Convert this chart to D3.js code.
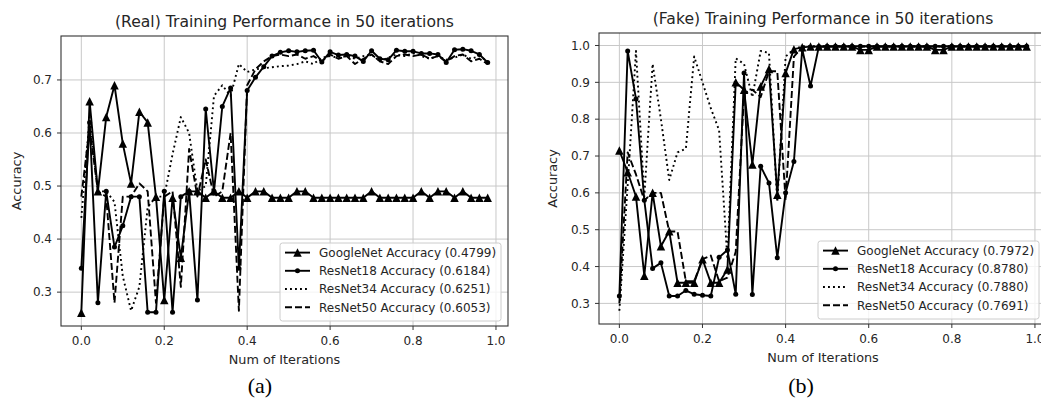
<!DOCTYPE html>
<html>
<head>
<meta charset="utf-8">
<script src="https://cdn.jsdelivr.net/npm/d3@7"></script>
<style>
  body { margin: 0; background: #fff; }
  svg { display: block; }
  text { font-family: "DejaVu Sans", sans-serif; fill: #262626; }
</style>
</head>
<body>
<div id="chart"></div>
<script>
// iteration fraction on the x axis (50 iterations)
const iterations = [
  0.00, 0.02, 0.04, 0.06, 0.08, 0.10, 0.12, 0.14, 0.16, 0.18,
  0.20, 0.22, 0.24, 0.26, 0.28, 0.30, 0.32, 0.34, 0.36, 0.38,
  0.40, 0.42, 0.44, 0.46, 0.48, 0.50, 0.52, 0.54, 0.56, 0.58,
  0.60, 0.62, 0.64, 0.66, 0.68, 0.70, 0.72, 0.74, 0.76, 0.78,
  0.80, 0.82, 0.84, 0.86, 0.88, 0.90, 0.92, 0.94, 0.96, 0.98
];

// (a) real
const realGoogleNet = [
  0.261, 0.66, 0.49, 0.63, 0.69, 0.58, 0.505, 0.64, 0.62, 0.48,
  0.285, 0.478, 0.365, 0.49, 0.49, 0.478, 0.49, 0.478, 0.478, 0.49,
  0.478, 0.49, 0.49, 0.478, 0.478, 0.478, 0.49, 0.49, 0.478, 0.478,
  0.478, 0.478, 0.478, 0.478, 0.478, 0.49, 0.478, 0.478, 0.478, 0.478,
  0.478, 0.49, 0.478, 0.49, 0.49, 0.478, 0.49, 0.478, 0.478, 0.478
];
const realResNet18 = [
  0.345, 0.62, 0.28, 0.49, 0.385, 0.425, 0.48, 0.48, 0.262, 0.262,
  0.49, 0.262, 0.48, 0.49, 0.285, 0.645, 0.49, 0.65, 0.685, 0.345,
  0.68, 0.705, 0.725, 0.745, 0.752, 0.755, 0.753, 0.755, 0.756, 0.734,
  0.753, 0.747, 0.748, 0.745, 0.735, 0.755, 0.74, 0.738, 0.756, 0.754,
  0.754, 0.75, 0.75, 0.748, 0.733, 0.757, 0.758, 0.755, 0.748, 0.733
];
const realResNet34 = [
  0.44, 0.63, 0.49, 0.49, 0.47, 0.33, 0.265, 0.31, 0.46, 0.48,
  0.48, 0.56, 0.63, 0.60, 0.49, 0.50, 0.67, 0.69, 0.67, 0.73,
  0.715, 0.72, 0.722, 0.724, 0.726, 0.727, 0.73, 0.735, 0.73, 0.742,
  0.745, 0.742, 0.745, 0.74, 0.745, 0.748, 0.735, 0.742, 0.748, 0.745,
  0.75, 0.745, 0.74, 0.745, 0.738, 0.742, 0.748, 0.74, 0.745, 0.735
];
const realResNet50 = [
  0.48, 0.61, 0.49, 0.48, 0.28, 0.48, 0.48, 0.505, 0.49, 0.28,
  0.48, 0.49, 0.31, 0.57, 0.48, 0.55, 0.48, 0.49, 0.60, 0.265,
  0.69, 0.72, 0.735, 0.745, 0.748, 0.745, 0.748, 0.74, 0.745, 0.735,
  0.748, 0.74, 0.745, 0.73, 0.74, 0.748, 0.735, 0.73, 0.745, 0.748,
  0.745, 0.748, 0.74, 0.745, 0.735, 0.745, 0.748, 0.735, 0.74, 0.73
];

// (b) fake
const fakeGoogleNet = [
  0.715, 0.656, 0.59, 0.375, 0.60, 0.455, 0.496, 0.356, 0.356, 0.356,
  0.42, 0.356, 0.356, 0.392, 0.90, 0.88, 0.677, 0.889, 0.936, 0.595,
  0.925, 0.99, 0.995, 0.997, 0.997, 0.997, 0.997, 0.997, 0.997, 0.988,
  0.988, 0.997, 0.997, 0.997, 0.997, 0.997, 0.997, 0.997, 0.988, 0.988,
  0.997, 0.997, 0.997, 0.997, 0.997, 0.997, 0.997, 0.997, 0.997, 0.997
];
const fakeResNet18 = [
  0.32, 0.985, 0.855, 0.58, 0.395, 0.41, 0.32, 0.32, 0.335, 0.325,
  0.322, 0.32, 0.425, 0.445, 0.325, 0.925, 0.324, 0.672, 0.627, 0.424,
  0.60, 0.685, 0.99, 0.89, 0.997, 0.998, 0.998, 0.998, 0.998, 0.998,
  0.998, 0.998, 0.998, 0.998, 0.998, 0.998, 0.998, 0.998, 0.998, 0.998,
  0.998, 0.998, 0.998, 0.998, 0.998, 0.998, 0.998, 0.998, 0.998, 0.998
];
const fakeResNet34 = [
  0.28, 0.62, 0.985, 0.59, 0.95, 0.80, 0.635, 0.71, 0.72, 0.97,
  0.90, 0.83, 0.77, 0.42, 0.965, 0.95, 0.86, 0.985, 0.98, 0.575,
  0.97, 0.99, 0.998, 0.998, 0.998, 0.998, 0.998, 0.998, 0.998, 0.998,
  0.998, 0.998, 0.998, 0.998, 0.998, 0.998, 0.998, 0.998, 0.998, 0.998,
  0.998, 0.998, 0.998, 0.998, 0.998, 0.998, 0.998, 0.998, 0.998, 0.998
];
const fakeResNet50 = [
  0.30, 0.71, 0.65, 0.58, 0.60, 0.60, 0.495, 0.495, 0.36, 0.36,
  0.42, 0.43, 0.36, 0.37, 0.44, 0.87, 0.88, 0.86, 0.93, 0.93,
  0.58, 0.97, 0.995, 0.997, 0.997, 0.997, 0.997, 0.997, 0.997, 0.997,
  0.997, 0.997, 0.997, 0.997, 0.997, 0.997, 0.997, 0.997, 0.997, 0.997,
  0.997, 0.997, 0.997, 0.997, 0.997, 0.997, 0.997, 0.997, 0.997, 0.997
];

const xTicks = [0.0, 0.2, 0.4, 0.6, 0.8, 1.0];
const realYTicks = [0.3, 0.4, 0.5, 0.6, 0.7];
const fakeYTicks = [0.3, 0.4, 0.5, 0.6, 0.7, 0.8, 0.9, 1.0];

const realLabels = [
  "GoogleNet Accuracy (0.4799)",
  "ResNet18 Accuracy (0.6184)",
  "ResNet34 Accuracy (0.6251)",
  "ResNet50 Accuracy (0.6053)"
];
const fakeLabels = [
  "GoogleNet Accuracy (0.7972)",
  "ResNet18 Accuracy (0.8780)",
  "ResNet34 Accuracy (0.7880)",
  "ResNet50 Accuracy (0.7691)"
];

// one style per model, same order as the legend
const styles = [
  { marker: "triangle", dash: null },
  { marker: "dot", dash: null },
  { marker: null, dash: "1.9,3.1" },
  { marker: null, dash: "7,3" }
];

const svg = d3.select("#chart")
  .append("svg")
  .attr("width", 1041)
  .attr("height", 398);

function trianglePath(s) {
  const p = d3.path();
  p.moveTo(0, -s / 2);
  p.lineTo(s / 2, s / 2);
  p.lineTo(-s / 2, s / 2);
  p.closePath();
  return p.toString();
}

// matplotlib style auto limits: data range plus 5% on each side
function padded(ext) {
  const m = (ext[1] - ext[0]) * 0.05;
  return [ext[0] - m, ext[1] + m];
}

function drawMarker(g, style, cx, cy) {
  if (style.marker === "triangle") {
    g.append("path")
      .attr("d", trianglePath(8.5))
      .attr("transform", "translate(" + cx + "," + cy + ")")
      .attr("fill", "#000");
  } else if (style.marker === "dot") {
    g.append("circle")
      .attr("cx", cx).attr("cy", cy).attr("r", 2.5)
      .attr("fill", "#000");
  }
}

function drawPanel(p) {
  const g = svg.append("g");
  const allValues = [].concat(...p.series);

  let x = d3.scaleLinear()
    .domain(padded(d3.extent(iterations)))
    .range([p.left, p.left + p.width]);

  let y = d3.scaleLinear()
    .domain(padded(d3.extent(allValues)))
    .range([p.top + p.height, p.top]);

  const bottom = p.top + p.height;

  // grid
  g.append("g").selectAll("line.vx")
    .data(xTicks)
    .enter().append("line")
      .attr("x1", d => x(d)).attr("x2", d => x(d))
      .attr("y1", p.top).attr("y2", bottom)
      .attr("stroke", "#c8c8c8").attr("stroke-width", 1);

  g.append("g").selectAll("line.hy")
    .data(p.yTicks)
    .enter().append("line")
      .attr("x1", p.left).attr("x2", p.left + p.width)
      .attr("y1", d => y(d)).attr("y2", d => y(d))
      .attr("stroke", "#c8c8c8").attr("stroke-width", 1);

  // series
  const line = d3.line()
    .x((d, i) => x(iterations[i]))
    .y(d => y(d));

  p.series.forEach((values, k) => {
    const st = styles[k];
    g.append("path")
      .datum(values)
      .attr("fill", "none")
      .attr("stroke", "#000")
      .attr("stroke-width", 1.9)
      .attr("stroke-linejoin", "round")
      .attr("stroke-dasharray", st.dash)
      .attr("d", line);

    if (st.marker) {
      const mg = g.append("g");
      values.forEach((v, i) => drawMarker(mg, st, x(iterations[i]), y(v)));
    }
  });

  // spines
  g.append("rect")
    .attr("x", p.left).attr("y", p.top)
    .attr("width", p.width).attr("height", p.height)
    .attr("fill", "none")
    .attr("stroke", "#333").attr("stroke-width", 1.1);

  // x ticks
  const xt = g.append("g").selectAll("g")
    .data(xTicks)
    .enter().append("g");
  xt.append("line")
    .attr("x1", d => x(d)).attr("x2", d => x(d))
    .attr("y1", bottom).attr("y2", bottom + 4)
    .attr("stroke", "#333");
  xt.append("text")
    .attr("x", d => x(d))
    .attr("y", bottom + 19)
    .attr("text-anchor", "middle")
    .style("font-size", "12px")
    .text(d => d3.format(".1f")(d));

  // y ticks
  const yt = g.append("g").selectAll("g")
    .data(p.yTicks)
    .enter().append("g");
  yt.append("line")
    .attr("x1", p.left - 4).attr("x2", p.left)
    .attr("y1", d => y(d)).attr("y2", d => y(d))
    .attr("stroke", "#333");
  yt.append("text")
    .attr("x", p.left - 9)
    .attr("y", d => y(d))
    .attr("dy", "0.36em")
    .attr("text-anchor", "end")
    .style("font-size", "12px")
    .text(d => d3.format(".1f")(d));

  // labels and title
  const cx = p.left + p.width / 2;
  g.append("text")
    .attr("x", cx).attr("y", bottom + 38)
    .attr("text-anchor", "middle")
    .style("font-size", "12.8px")
    .text("Num of Iterations");

  g.append("text")
    .attr("transform", "translate(" + p.yLabelX + "," + (p.top + p.height / 2) + ") rotate(-90)")
    .attr("text-anchor", "middle")
    .style("font-size", "12.8px")
    .text("Accuracy");

  g.append("text")
    .attr("x", cx).attr("y", p.top - 9.5)
    .attr("text-anchor", "middle")
    .style("font-size", "15.6px")
    .text(p.title);

  g.append("text")
    .attr("x", p.captionX).attr("y", 393)
    .attr("text-anchor", "middle")
    .style("font-family", "'Liberation Serif', serif")
    .style("font-size", "22px")
    .style("fill", "#000")
    .text(p.caption);

  // legend
  const lw = 221, lh = 78;
  const lx = p.legendX, ly = bottom - 5 - lh;
  const lg = g.append("g");
  lg.append("rect")
    .attr("x", lx).attr("y", ly)
    .attr("width", lw).attr("height", lh)
    .attr("rx", 2.5)
    .attr("fill", "#fff").attr("fill-opacity", 0.8)
    .attr("stroke", "#cccccc").attr("stroke-width", 1);

  p.labels.forEach((label, k) => {
    const st = styles[k];
    const ry = ly + 9.6 + 18.2 * k;
    lg.append("line")
      .attr("x1", lx + 5).attr("x2", lx + 30)
      .attr("y1", ry).attr("y2", ry)
      .attr("stroke", "#000").attr("stroke-width", 1.9)
      .attr("stroke-dasharray", st.dash);
    drawMarker(lg, st, lx + 17.5, ry);
    lg.append("text")
      .attr("x", lx + 39).attr("y", ry)
      .attr("dy", "0.36em")
      .style("font-size", "12px")
      .text(label);
  });
}

drawPanel({
  left: 61, top: 36, width: 447, height: 290,
  series: [realGoogleNet, realResNet18, realResNet34, realResNet50],
  labels: realLabels,
  yTicks: realYTicks,
  title: "(Real) Training Performance in 50 iterations",
  caption: "(a)", captionX: 260,
  yLabelX: 21, legendX: 280
});

drawPanel({
  left: 599, top: 33, width: 448, height: 291,
  series: [fakeGoogleNet, fakeResNet18, fakeResNet34, fakeResNet50],
  labels: fakeLabels,
  yTicks: fakeYTicks,
  title: "(Fake) Training Performance in 50 iterations",
  caption: "(b)", captionX: 801,
  yLabelX: 557, legendX: 818
});
</script>
</body>
</html>
